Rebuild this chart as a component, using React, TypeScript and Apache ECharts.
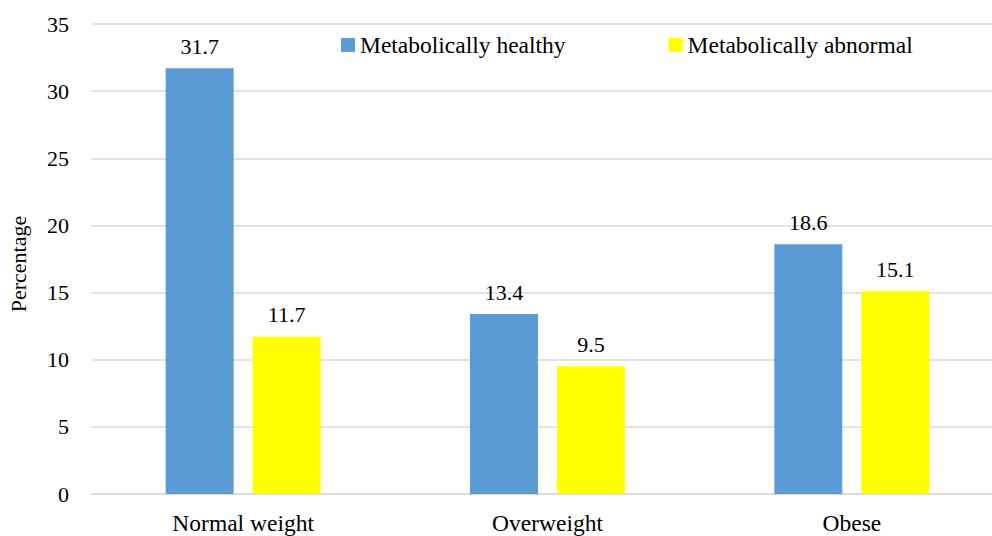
import React, { useEffect, useRef } from "react";
import * as echarts from "echarts";

const categories = ["Normal weight", "Overweight", "Obese"];
const healthy = [31.7, 13.4, 18.6];
const abnormal = [11.7, 9.5, 15.1];
const seriesNames = ["Metabolically healthy", "Metabolically abnormal"];
const yTicks = { min: 0, max: 35, interval: 5 };

const FONT = "'Liberation Serif', 'DejaVu Serif', serif";
const FS_NUM = 22;
const FS_TXT = 23.5;

export default function App() {
  const ref = useRef<HTMLDivElement>(null);
  useEffect(() => {
    if (!ref.current) return;
    const chart = echarts.init(ref.current, undefined, { renderer: "svg" });
    const label = { show: true, position: "top", distance: 11, fontFamily: FONT, fontSize: FS_NUM, color: "#000" };
    chart.setOption({
      animation: false,
      backgroundColor: "#ffffff",
      textStyle: { fontFamily: FONT, color: "#000" },
      grid: { left: 91, top: 24, width: 913, height: 470, containLabel: false, outerBoundsMode: "none" },
      legend: {
        data: seriesNames,
        left: 336,
        top: 28,
        padding: 5,
        itemWidth: 14,
        itemHeight: 14,
        itemGap: 103,
        icon: "rect",
        textStyle: { fontFamily: FONT, fontSize: FS_TXT, color: "#000" },
      },
      xAxis: {
        type: "category",
        data: categories,
        axisTick: { show: false },
        axisLine: { lineStyle: { color: "#d9d9d9", width: 1.5 } },
        axisLabel: { fontFamily: FONT, fontSize: FS_TXT, lineHeight: 24, color: "#000", margin: 17 },
      },
      yAxis: {
        type: "value",
        min: yTicks.min,
        max: yTicks.max,
        interval: yTicks.interval,
        name: "Percentage",
        nameLocation: "middle",
        nameGap: 62,
        nameRotate: 90,
        nameTextStyle: { fontFamily: FONT, fontSize: FS_NUM, color: "#000", padding: [0, 10, 0, 0] },
        axisLine: { show: false },
        axisTick: { show: false },
        axisLabel: { fontFamily: FONT, fontSize: FS_NUM, color: "#000", margin: 22 },
        splitLine: { lineStyle: { color: "#d9d9d9", width: 1.5 } },
      },
      series: [
        {
          name: seriesNames[0],
          type: "bar",
          data: healthy,
          barWidth: 68,
          barGap: "28%",
          itemStyle: { color: "#5b9bd5" },
          label,
        },
        {
          name: seriesNames[1],
          type: "bar",
          data: abnormal,
          barWidth: 68,
          barGap: "28%",
          itemStyle: { color: "#ffff00" },
          label,
        },
      ],
    });
    return () => chart.dispose();
  }, []);
  return (
    <div
      ref={ref}
      style={{ position: "fixed", left: 0, top: 0, width: 992, height: 536 }}
    />
  );
}
